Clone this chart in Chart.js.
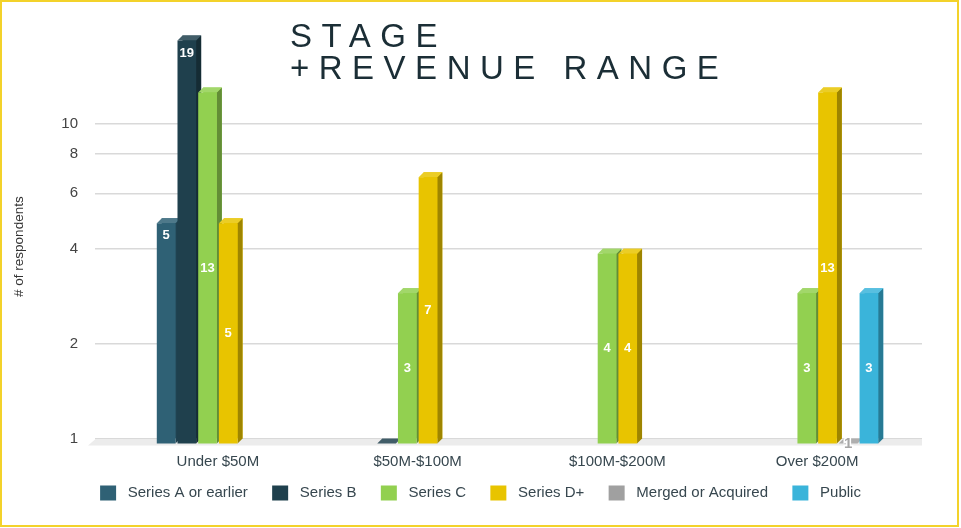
<!DOCTYPE html>
<html lang="en">
<head>
    <meta charset="UTF-8">
    <title>Stage + Revenue Range</title>
    <script src="https://cdn.jsdelivr.net/npm/chart.js@4.4.1/dist/chart.umd.min.js"></script>
    <style>
        html, body { margin: 0; padding: 0; background: #fff; }
        #wrap { position: relative; width: 961px; height: 528px; overflow: hidden; }
        #frame {
            position: absolute; left: 0; top: 0; width: 959px; height: 527px;
            border: 2px solid #f3d22a; box-sizing: border-box; pointer-events: none;
        }
        #title {
            position: absolute; left: 290px; top: 20px;
            font: 33px/32px "Liberation Sans", Arial, sans-serif;
            letter-spacing: 9.5px; color: #1b2e36; white-space: pre;
        }
    </style>
</head>
<body>
<div id="wrap">
    <canvas id="chart" width="961" height="528"></canvas>
    <div id="title">STAGE
+REVENUE RANGE</div>
    <div id="frame"></div>
</div>

<script>
    // data
    const categories = ['Under $50M', '$50M-$100M', '$100M-$200M', 'Over $200M'];
    const seriesNames = ['Series A or earlier', 'Series B', 'Series C', 'Series D+', 'Merged or Acquired', 'Public'];
    const seriesA = [5, null, null, null];
    const seriesB = [19, 1, null, null];
    const seriesC = [13, 3, 4, 3];
    const seriesD = [5, 7, 4, 13];
    const mergedAcquired = [null, null, null, 1];
    const publicCo = [null, null, null, 3];
    const yTicks = [1, 2, 4, 6, 8, 10];

    const colors = ['#2f6175', '#1f404d', '#92d050', '#e8c400', '#a0a0a0', '#3ab4da'];
    const font = '"Liberation Sans", Arial, sans-serif';
    const depth = 5;

    // mix a hex colour with white (amt > 0) or black (amt < 0)
    function shade(hex, amt) {
        const n = parseInt(hex.slice(1), 16);
        let r = n >> 16, g = (n >> 8) & 255, b = n & 255;
        const t = amt > 0 ? 255 : 0, p = Math.abs(amt);
        r = Math.round(r + (t - r) * p);
        g = Math.round(g + (t - g) * p);
        b = Math.round(b + (t - b) * p);
        return `rgb(${r},${g},${b})`;
    }

    function poly(ctx, pts, fill) {
        ctx.beginPath();
        ctx.moveTo(pts[0][0], pts[0][1]);
        for (let i = 1; i < pts.length; i++) ctx.lineTo(pts[i][0], pts[i][1]);
        ctx.closePath();
        ctx.fillStyle = fill;
        ctx.fill();
    }

    // fake 3D: chart.js bars sit on the back wall, front face is shifted down-left
    const bars3d = {
        id: 'bars3d',
        beforeDatasetsDraw(chart) {
            const {ctx, chartArea} = chart;
            const yBase = chart.scales.y.getPixelForValue(1);
            const left = chartArea.left - 28;
            ctx.save();
            poly(ctx, [[left, yBase + 1], [chartArea.right, yBase + 1],
                [chartArea.right, yBase + depth + 2], [left - 7, yBase + depth + 2]], '#ececec');
            ctx.restore();
        },
        afterDatasetsDraw(chart, args, opts) {
            const {ctx} = chart;
            ctx.save();
            const labels = [];
            chart.data.datasets.forEach((ds, di) => {
                const meta = chart.getDatasetMeta(di);
                const col = ds.backgroundColor;
                meta.data.forEach((bar, i) => {
                    const v = ds.data[i];
                    if (v == null) return;
                    const {x, y, base, width} = bar.getProps(['x', 'y', 'base', 'width'], true);
                    const x0 = x - width / 2, x1 = x + width / 2;
                    const fx0 = x0 - depth, fx1 = x1 - depth, ft = y + depth, fb = base + depth;
                    poly(ctx, [[fx1, ft], [x1, y], [x1, base], [fx1, fb]], shade(col, -0.32));
                    poly(ctx, [[fx0, ft], [x0, y], [x1, y], [fx1, ft]], shade(col, 0.15));
                    ctx.fillStyle = col;
                    ctx.fillRect(fx0, ft, width, fb - ft);
                    const key = di + ':' + i;
                    if (opts.noLabels.includes(key)) return;
                    let ly = (ft + fb) / 2;
                    if (opts.topLabels.includes(key)) ly = ft + 12.5;
                    labels.push({v, x: x - depth, y: ly, small: v === 1, fb});
                });
            });
            ctx.textAlign = 'center';
            ctx.textBaseline = 'middle';
            labels.forEach(l => {
                if (l.small) {
                    ctx.font = 'bold 15px ' + font;
                    ctx.lineWidth = 3;
                    ctx.strokeStyle = '#ffffff';
                    ctx.strokeText(String(l.v), l.x, l.fb);
                    ctx.fillStyle = '#a6a6a6';
                    ctx.fillText(String(l.v), l.x, l.fb);
                } else {
                    ctx.font = 'bold 13px ' + font;
                    ctx.fillStyle = '#ffffff';
                    ctx.fillText(String(l.v), l.x, l.y);
                }
            });
            ctx.restore();
        }
    };

    const seriesData = [seriesA, seriesB, seriesC, seriesD, mergedAcquired, publicCo];

    new Chart(document.getElementById('chart'), {
        type: 'bar',
        data: {
            labels: categories,
            datasets: seriesNames.map((name, i) => ({
                label: name,
                data: seriesData[i],
                backgroundColor: colors[i],
                categoryPercentage: 0.622,
                barPercentage: 0.9
            }))
        },
        options: {
            responsive: false,
            animation: false,
            devicePixelRatio: 1,
            layout: { padding: { top: 28.5, bottom: 17.5, left: 0, right: 0 } },
            scales: {
                x: {
                    grid: { display: false, drawTicks: false },
                    border: { display: false },
                    ticks: { font: { family: font, size: 15 }, color: '#37474f', padding: 14, labelOffset: -5 },
                    afterFit(s) { s.height = 31; }
                },
                y: {
                    type: 'logarithmic',
                    min: 1,
                    max: 20,
                    afterBuildTicks(s) { s.ticks = yTicks.map(v => ({ value: v })); },
                    grid: { color: '#d9d9d9', lineWidth: 1.5, tickLength: 28 },
                    border: { display: false },
                    ticks: {
                        font: { family: font, size: 15 }, color: '#444', padding: 17,
                        callback: v => String(v)
                    },
                    title: {
                        display: true,
                        // trailing spaces push the visible text a little lower along the axis
                        text: '# of respondents' + ' '.repeat(7),
                        font: { family: font, size: 13.5 }, color: '#333',
                        padding: { top: 11, bottom: 0 }
                    },
                    afterFit(s) { s.width = 123; }
                },
                y2: {
                    type: 'linear',
                    position: 'right',
                    grid: { display: false },
                    border: { display: false },
                    ticks: { display: false },
                    afterFit(s) { s.width = 39; }
                }
            },
            plugins: {
                legend: {
                    position: 'bottom',
                    labels: {
                        boxWidth: 16, boxHeight: 15, padding: 16,
                        font: { family: font, size: 15 }, color: '#37474f',
                        generateLabels(chart) {
                            const items = Chart.defaults.plugins.legend.labels.generateLabels(chart);
                            return items.map((l, i) => ({
                                ...l,
                                text: ' ' + l.text + (i < items.length - 1 ? '  ' : '')
                            }));
                        }
                    }
                },
                tooltip: { enabled: false },
                bars3d: { topLabels: ['0:0', '1:0'], noLabels: ['1:1'] }
            }
        },
        plugins: [bars3d]
    });
</script>
</body>
</html>
